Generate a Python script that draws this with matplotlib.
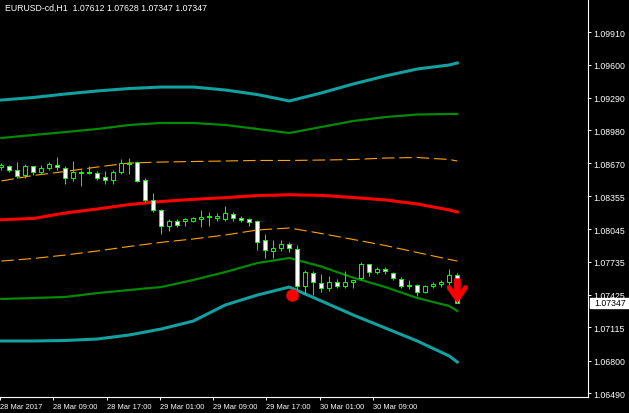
#!/usr/bin/env python3
"""
EURUSD H1 chart with envelope bands, drawn MetaTrader style
"""

import matplotlib
matplotlib.use('Agg')
import matplotlib.pyplot as plt
import matplotlib.transforms as mtransforms
from matplotlib.patches import Rectangle, Polygon

plt.rcParams['font.family'] = ['Liberation Sans', 'DejaVu Sans']
plt.rcParams['lines.scale_dashes'] = False

symbol = 'EURUSD-cd,H1'

# OHLC per H1 bar
opens = [1.08632, 1.08639, 1.08601, 1.08556, 1.08639, 1.08588, 1.08620, 1.08651, 1.08626, 1.08531,
         1.08585, 1.08585, 1.08575, 1.08538, 1.08512, 1.08582, 1.08670, 1.08677, 1.08506, 1.08323,
         1.08228, 1.08071, 1.08118, 1.08118, 1.08124, 1.08137, 1.08156, 1.08152, 1.08140, 1.08190,
         1.08152, 1.08140, 1.08121, 1.07938, 1.07837, 1.07868, 1.07900, 1.07856, 1.07509, 1.07629,
         1.07534, 1.07484, 1.07541, 1.07503, 1.07546, 1.07579, 1.07711, 1.07635, 1.07667, 1.07629,
         1.07572, 1.07515, 1.07515, 1.07446, 1.07503, 1.07522, 1.07541, 1.07612]
highs = [1.08670, 1.08651, 1.08682, 1.08663, 1.08642, 1.08651, 1.08677, 1.08727, 1.08639, 1.08689,
         1.08607, 1.08639, 1.08594, 1.08594, 1.08607, 1.08708, 1.08715, 1.08689, 1.08525, 1.08386,
         1.08235, 1.08140, 1.08140, 1.08149, 1.08156, 1.08228, 1.08203, 1.08197, 1.08260, 1.08203,
         1.08166, 1.08152, 1.08133, 1.08001, 1.07938, 1.07938, 1.07925, 1.07894, 1.07657, 1.07648,
         1.07622, 1.07603, 1.07572, 1.07648, 1.07565, 1.07730, 1.07717, 1.07686, 1.07686, 1.07641,
         1.07591, 1.07565, 1.07522, 1.07515, 1.07541, 1.07565, 1.07667, 1.07628]
lows = [1.08604, 1.08585, 1.08531, 1.08531, 1.08556, 1.08563, 1.08607, 1.08607, 1.08474, 1.08500,
        1.08449, 1.08563, 1.08512, 1.08474, 1.08474, 1.08569, 1.08569, 1.08494, 1.08304, 1.08203,
        1.07998, 1.08023, 1.08067, 1.08077, 1.08109, 1.08067, 1.08077, 1.08124, 1.08118, 1.08121,
        1.08109, 1.08071, 1.07849, 1.07768, 1.07768, 1.07837, 1.07825, 1.07477, 1.07430, 1.07420,
        1.07446, 1.07458, 1.07484, 1.07484, 1.07484, 1.07563, 1.07597, 1.07616, 1.07622, 1.07560,
        1.07490, 1.07477, 1.07414, 1.07439, 1.07490, 1.07496, 1.07515, 1.07347]
closes = [1.08651, 1.08601, 1.08550, 1.08639, 1.08588, 1.08620, 1.08658, 1.08632, 1.08525, 1.08582,
          1.08575, 1.08571, 1.08531, 1.08512, 1.08582, 1.08670, 1.08663, 1.08497, 1.08323, 1.08228,
          1.08071, 1.08124, 1.08083, 1.08137, 1.08147, 1.08162, 1.08168, 1.08166, 1.08197, 1.08152,
          1.08133, 1.08114, 1.07925, 1.07844, 1.07868, 1.07906, 1.07863, 1.07503, 1.07635, 1.07541,
          1.07484, 1.07541, 1.07503, 1.07546, 1.07563, 1.07711, 1.07635, 1.07667, 1.07645, 1.07579,
          1.07503, 1.07510, 1.07446, 1.07503, 1.07527, 1.07546, 1.07610, 1.07347]

# band lines, read at every 4th bar
band_bars = [0, 4, 8, 12, 16, 20, 24, 28, 32, 36, 40, 44, 48, 52, 56, 57]
teal_upper = [1.09266, 1.09290, 1.09323, 1.09352, 1.09375, 1.09389, 1.09389, 1.09361,
              1.09318, 1.09257, 1.09333, 1.09418, 1.09494, 1.09560, 1.09598, 1.09617]
green_upper = [1.08907, 1.08935, 1.08963, 1.08992, 1.09030, 1.09049, 1.09049, 1.09030,
               1.08992, 1.08954, 1.09011, 1.09068, 1.09105, 1.09129, 1.09134, 1.09134]
orange_upper = [1.08500, 1.08552, 1.08590, 1.08632, 1.08670, 1.08679, 1.08684, 1.08689,
                1.08694, 1.08694, 1.08698, 1.08703, 1.08717, 1.08722, 1.08703, 1.08689]
red_middle = [1.08133, 1.08145, 1.08197, 1.08235, 1.08277, 1.08306, 1.08326, 1.08342,
              1.08362, 1.08369, 1.08364, 1.08343, 1.08320, 1.08282, 1.08225, 1.08206]
orange_lower = [1.07742, 1.07766, 1.07799, 1.07837, 1.07880, 1.07919, 1.07951, 1.07988,
                1.08036, 1.08055, 1.08003, 1.07946, 1.07889, 1.07823, 1.07757, 1.07742]
green_lower = [1.07383, 1.07392, 1.07402, 1.07439, 1.07468, 1.07496, 1.07563, 1.07638,
               1.07723, 1.07771, 1.07690, 1.07584, 1.07496, 1.07392, 1.07316, 1.07269]
teal_lower = [1.06985, 1.06985, 1.06990, 1.07004, 1.07042, 1.07099, 1.07174, 1.07326,
              1.07420, 1.07496, 1.07364, 1.07231, 1.07108, 1.06985, 1.06843, 1.06786]

# signals
dot_bar = 36.4
dot_price = 1.07420
arrow_bar = 57

price_ticks = [1.09910, 1.09600, 1.09290, 1.08980, 1.08670, 1.08355,
               1.08045, 1.07735, 1.07425, 1.07115, 1.06800, 1.06490]
time_labels = ['28 Mar 2017', '28 Mar 09:00', '28 Mar 17:00', '29 Mar 01:00',
               '29 Mar 09:00', '29 Mar 17:00', '30 Mar 01:00', '30 Mar 09:00']

CANDLE = '#00FF00'
TEAL = '#12A0A0'
GREEN = '#008A00'
ORANGE = '#FFA500'
RED = '#FF0000'
FS = 6.3

W, H = 629, 414
fig = plt.figure(figsize=(W / 100, H / 100), dpi=100, facecolor='black')
ax = fig.add_axes([0, 16 / H, 588 / W, 398 / H])
ax.set_facecolor('black')

# bands
ax.plot(band_bars, teal_upper, color=TEAL, lw=2.2, zorder=2)
ax.plot(band_bars, green_upper, color=GREEN, lw=1.6, zorder=2)
ax.plot(band_bars, orange_upper, color=ORANGE, lw=0.8, ls=(0, (9, 3.5)), zorder=2)
ax.plot(band_bars, red_middle, color=RED, lw=2.2, zorder=2)
ax.plot(band_bars, orange_lower, color=ORANGE, lw=0.8, ls=(0, (9, 3.5)), zorder=2)
ax.plot(band_bars, green_lower, color=GREEN, lw=1.6, zorder=2)
ax.plot(band_bars, teal_lower, color=TEAL, lw=2.2, zorder=2)

# candles
min_body = 0.00009
for i, (o, h, l, c) in enumerate(zip(opens, highs, lows, closes)):
    ax.vlines(i, l, h, color=CANDLE, lw=0.75, zorder=3)
    lo, hi = min(o, c), max(o, c)
    face = 'white' if c < o else 'black'
    ax.add_patch(Rectangle((i - 0.25, lo), 0.5, max(hi - lo, min_body),
                           facecolor=face, edgecolor=CANDLE, lw=0.75, zorder=4))

# signal dot
ax.plot([dot_bar], [dot_price], 'o', color=RED, markersize=8, zorder=6)

# sell arrow, shape in pixels relative to its tip at the last close
arrow_shape = [(0, 0), (10, 14), (10, 17), (7, 17), (3, 11), (3, 24),
               (-3, 24), (-3, 11), (-7, 17), (-10, 17), (-10, 14)]
arrow_tr = mtransforms.Affine2D() + mtransforms.ScaledTranslation(
    arrow_bar, closes[-1], ax.transData)
ax.add_patch(Polygon(arrow_shape, closed=True, facecolor=RED, edgecolor=RED,
                     lw=0.5, transform=arrow_tr, zorder=7))

# axes limits: 8 px per bar
ax.set_xlim(-0.1625, 73.34)
ax.set_ylim(1.06455, 1.102224)

for side in ['top', 'left']:
    ax.spines[side].set_visible(False)
for side in ['right', 'bottom']:
    ax.spines[side].set_color('white')
    ax.spines[side].set_linewidth(0.8)

ax.yaxis.tick_right()
ax.set_yticks(price_ticks, labels=[f'{p:.5f}' for p in price_ticks])
ax.tick_params(axis='y', colors='white', labelcolor='white', labelsize=FS,
               length=2.5, width=0.7, pad=1.5)

tick_pos = [-0.16 + k * 6.66 for k in range(len(time_labels))]
ax.set_xticks(tick_pos, labels=time_labels)
for lbl in ax.get_xticklabels():
    lbl.set_ha('left')
ax.tick_params(axis='x', colors='white', labelcolor='white', labelsize=5.4,
               length=2.5, width=0.7, pad=1.8)

# current price box
box_tr = mtransforms.blended_transform_factory(ax.transAxes, ax.transData)
half = 0.00048
ax.add_patch(Rectangle((1.0 + 1.5 / 588, closes[-1] - half), 41 / 588, 2 * half,
                       facecolor='white', edgecolor='white', transform=box_tr,
                       clip_on=False, zorder=8))
ax.text(1.0 + 6 / 588, closes[-1], f'{closes[-1]:.5f}', transform=box_tr,
        ha='left', va='center', color='black', fontsize=FS, zorder=9)

title = f'{symbol}  {opens[-1]:.5f} {highs[-1]:.5f} {lows[-1]:.5f} {closes[-1]:.5f}'
fig.text(5 / W, 1 - 8 / H, title, color='white', fontsize=FS, ha='left', va='center')

fig.savefig('out.png', dpi=100, facecolor='black')
